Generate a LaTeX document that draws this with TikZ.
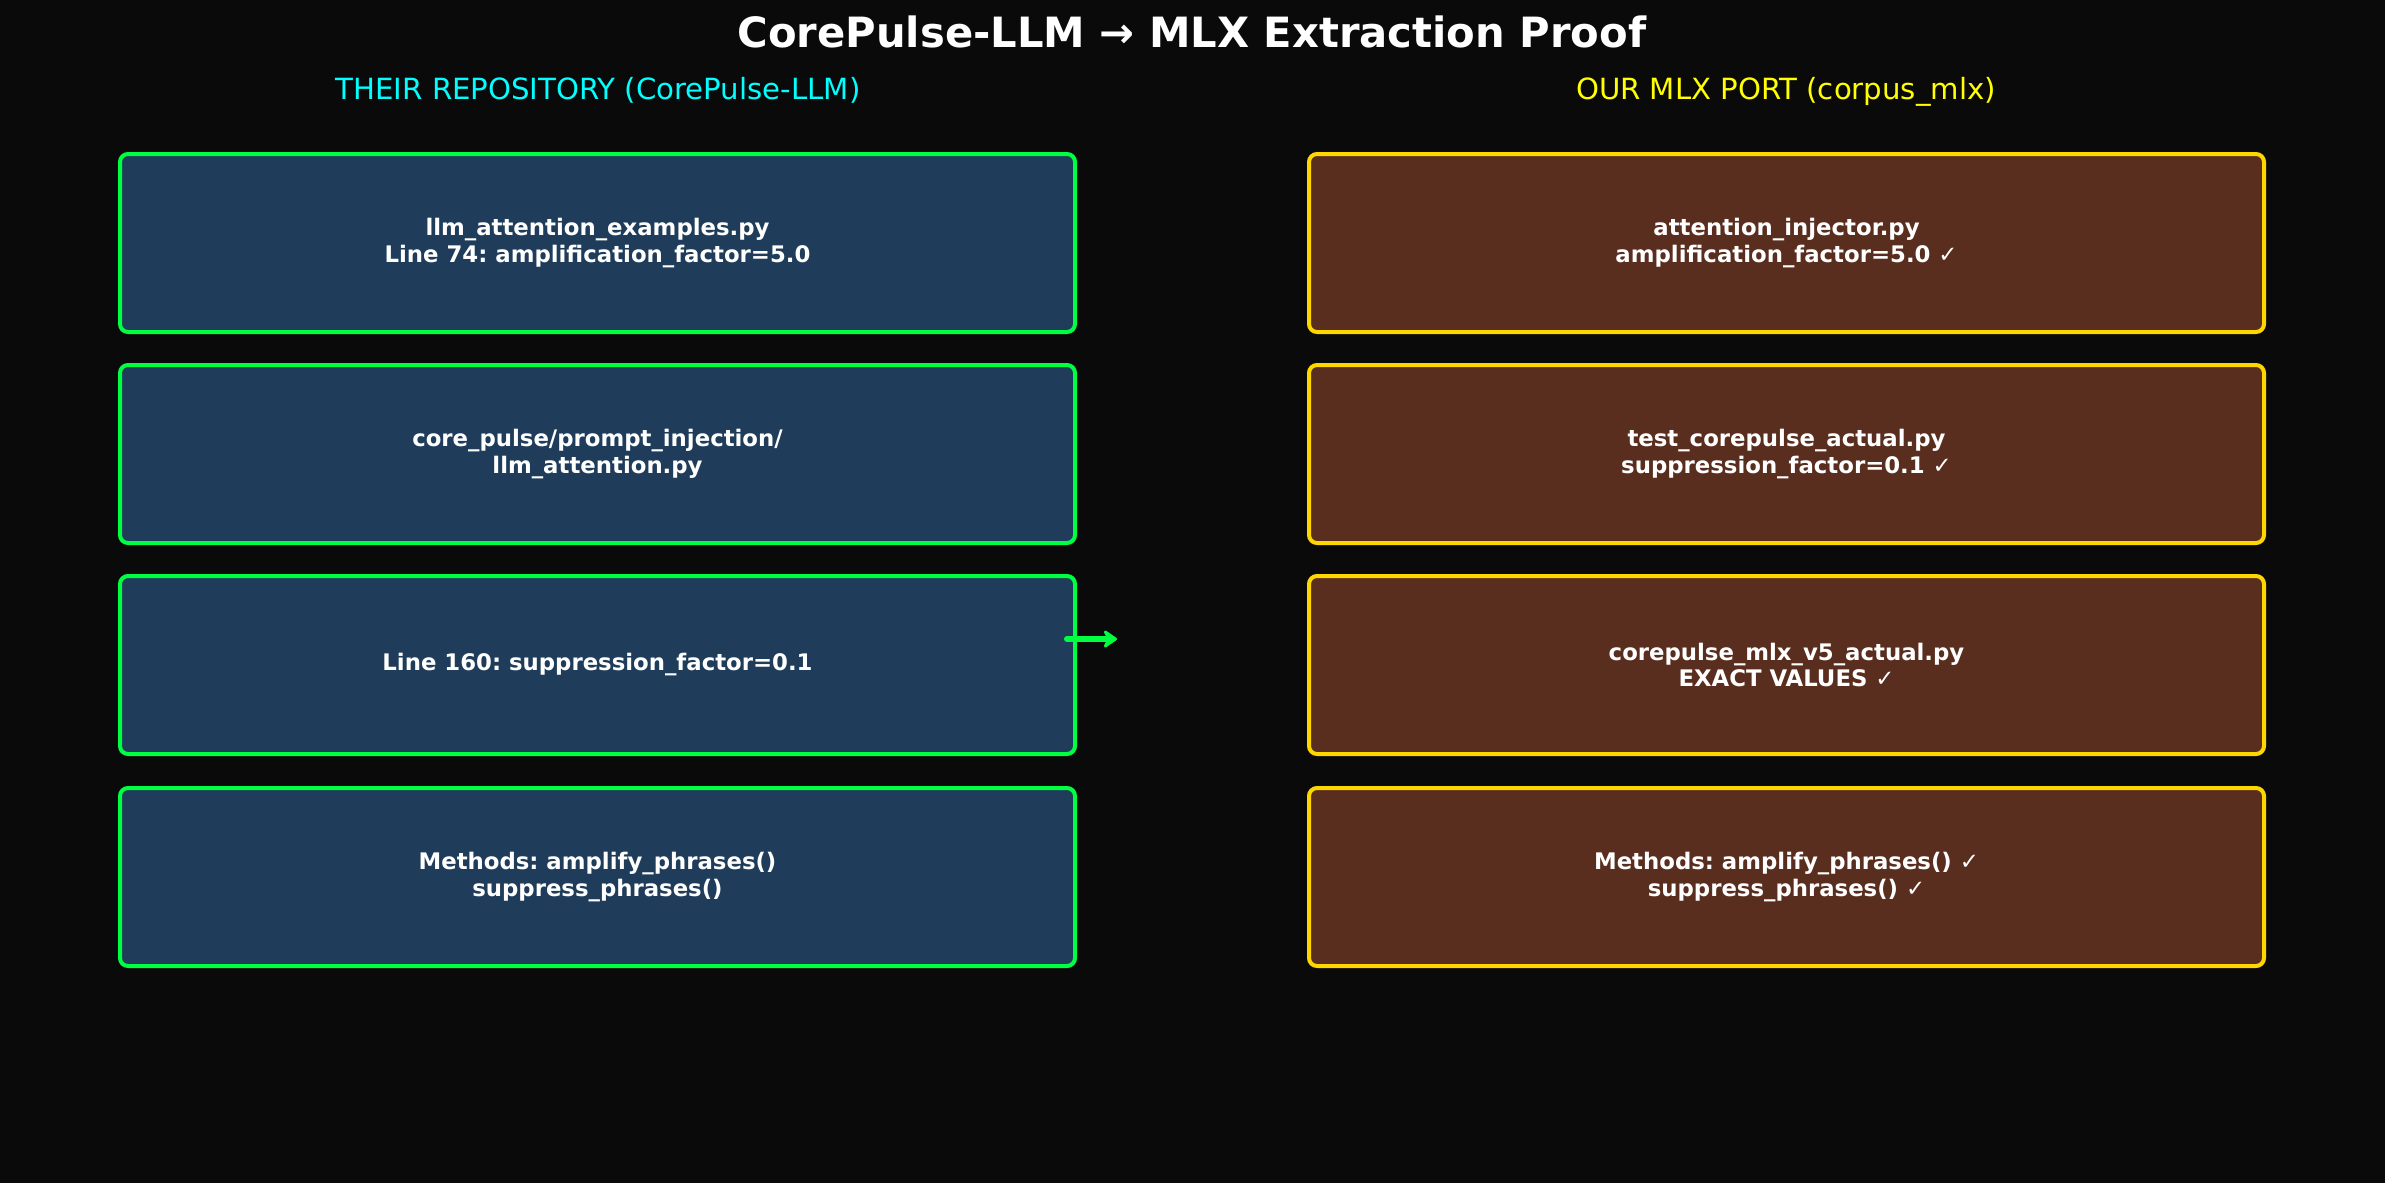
\documentclass[tikz,border=0pt]{standalone}
\usepackage{fontspec}
\setmainfont{DejaVu Sans}
\usetikzlibrary{arrows.meta}
\definecolor{bgc}{HTML}{0A0A0A}
\definecolor{lfill}{HTML}{1F3D5A}
\definecolor{rfill}{HTML}{5A2E1F}
\definecolor{grn}{HTML}{00FF41}
\definecolor{gld}{HTML}{FFD700}
\definecolor{cyn}{HTML}{00FFFF}
\definecolor{ylw}{HTML}{FFFF00}
\tikzset{
  box/.style={rectangle, rounded corners=8pt, line width=4pt, minimum width=955pt, minimum height=178pt, inner sep=0pt, outer sep=0pt, text=white, align=center, font=\fontsize{22.8}{26.5}\selectfont\bfseries\frenchspacing},
  lbox/.style={box, draw=grn, fill=lfill},
  rbox/.style={box, draw=gld, fill=rfill},
  hdr/.style={anchor=base, font=\fontsize{29.2}{34}\selectfont},
  arr/.style={draw=grn, line width=6pt, line cap=round, -{Stealth[length=16pt,width=22pt,round]}}
}
\begin{document}
\begin{tikzpicture}[x=1pt,y=-1pt]
\fill[bgc] (0,0) rectangle (2385,1183);
\useasboundingbox (0,0) rectangle (2385,1183);
\node[anchor=base, text=white, font=\fontsize{41.7}{48}\selectfont\bfseries] (title) at (1192,47) {CorePulse-LLM → MLX Extraction Proof};
\node[hdr, text=cyn] (hl) at (598,99) {THEIR REPOSITORY (CorePulse-LLM)};
\node[hdr, text=ylw] (hr) at (1786,99) {OUR MLX PORT (corpus\_mlx)};
\node[lbox] (l1) at (597.5,243) {llm\_attention\_examples.py\\Line 74: amplification\_factor=5.0};
\node[lbox] (l2) at (597.5,454) {core\_pulse/prompt\_injection/\\llm\_attention.py};
\node[lbox] (l3) at (597.5,665) {Line 160: suppression\_factor=0.1};
\node[lbox] (l4) at (597.5,877) {Methods: amplify\_phrases()\\suppress\_phrases()};
\node[rbox] (r1) at (1786.5,243) {attention\_injector.py\\amplification\_factor=5.0 ✓};
\node[rbox] (r2) at (1786.5,454) {test\_corepulse\_actual.py\\suppression\_factor=0.1 ✓};
\node[rbox] (r3) at (1786.5,665) {corepulse\_mlx\_v5\_actual.py\\EXACT VALUES ✓};
\node[rbox] (r4) at (1786.5,877) {Methods: amplify\_phrases() ✓\\suppress\_phrases() ✓};
\coordinate (aend) at (1117,639);
\draw[arr] ([xshift=-8pt,yshift=26pt]l3.east) -- (aend);
\end{tikzpicture}
\end{document}
